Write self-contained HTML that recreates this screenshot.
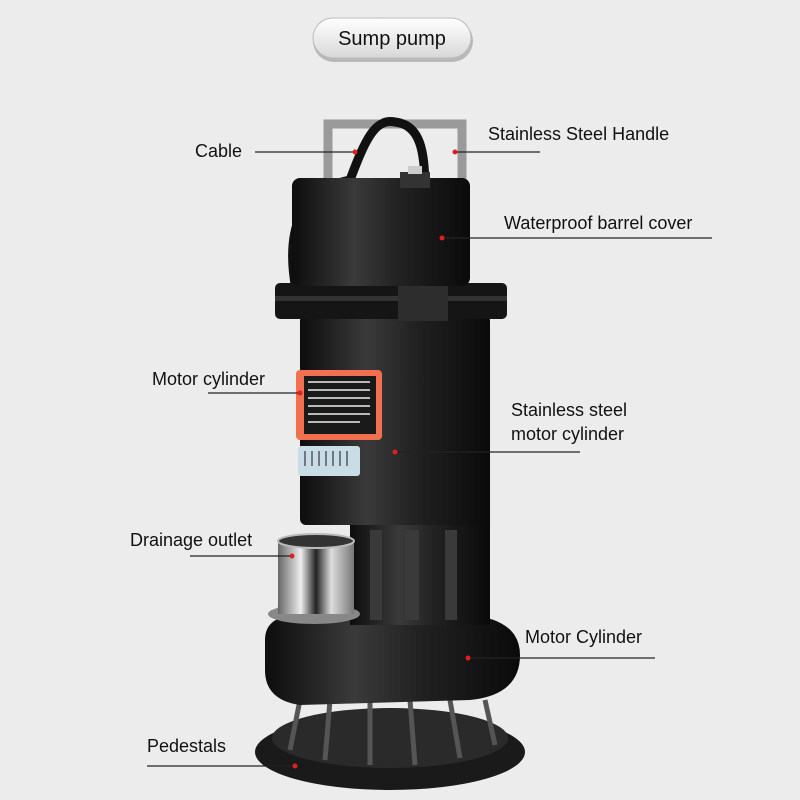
<!DOCTYPE html>
<html><head><meta charset="utf-8"><style>
html,body{margin:0;padding:0;background:#ececec;}
svg{display:block}
text{font-family:"Liberation Sans",sans-serif;font-size:18px;fill:#111;}
</style></head><body>
<svg width="800" height="800" viewBox="0 0 800 800" xmlns="http://www.w3.org/2000/svg">
<defs>
<linearGradient id="pill" x1="0" y1="0" x2="0" y2="1"><stop offset="0" stop-color="#ffffff"/><stop offset="1" stop-color="#d8d8d8"/></linearGradient>
<linearGradient id="blk" x1="0" y1="0" x2="1" y2="0"><stop offset="0" stop-color="#0d0d0d"/><stop offset="0.35" stop-color="#3a3a3a"/><stop offset="0.6" stop-color="#222"/><stop offset="1" stop-color="#0a0a0a"/></linearGradient>
<linearGradient id="steel" x1="0" y1="0" x2="1" y2="0"><stop offset="0" stop-color="#666"/><stop offset="0.3" stop-color="#eee"/><stop offset="0.5" stop-color="#222"/><stop offset="0.7" stop-color="#ddd"/><stop offset="1" stop-color="#777"/></linearGradient>
</defs>
<rect width="800" height="800" fill="#ececec"/>
<rect x="313" y="20" width="160" height="42" rx="21" fill="#b8b8b8"/>
<rect x="313" y="18" width="158" height="40" rx="20" fill="url(#pill)" stroke="#bbb"/>
<text x="392" y="45" text-anchor="middle" style="font-size:20px">Sump pump</text>

<!-- handle -->
<path d="M328 200 V124 H462 V200" fill="none" stroke="#9a9a9a" stroke-width="9"/>
<!-- cable -->
<path d="M296 290 C285 230 300 190 350 180 C365 140 375 118 395 122 C420 125 425 150 425 190" fill="none" stroke="#111" stroke-width="9"/>
<!-- base -->
<ellipse cx="390" cy="752" rx="135" ry="38" fill="#1a1a1a"/>
<ellipse cx="390" cy="738" rx="118" ry="30" fill="#2a2a2a"/>
<g stroke="#555" stroke-width="5"><line x1="300" y1="700" x2="290" y2="750"/><line x1="330" y1="700" x2="325" y2="760"/><line x1="370" y1="700" x2="370" y2="765"/><line x1="410" y1="700" x2="415" y2="765"/><line x1="450" y1="700" x2="460" y2="758"/><line x1="485" y1="700" x2="495" y2="745"/></g>
<!-- volute -->
<path d="M265 640 Q265 615 300 615 L470 615 Q520 620 520 655 Q520 695 470 700 L300 705 Q265 700 265 670 Z" fill="url(#blk)"/>
<!-- ribs -->
<rect x="350" y="515" width="140" height="110" fill="url(#blk)"/>
<g fill="#3a3a3a"><rect x="370" y="530" width="12" height="90"/><rect x="405" y="530" width="14" height="90"/><rect x="445" y="530" width="12" height="90"/></g>
<!-- motor body -->
<rect x="300" y="315" width="190" height="210" rx="6" fill="url(#blk)"/>
<rect x="296" y="370" width="86" height="70" rx="4" fill="#f07050"/>
<rect x="304" y="376" width="72" height="58" fill="#1a1a1a"/>
<g stroke="#bbb" stroke-width="2"><line x1="308" y1="382" x2="370" y2="382"/><line x1="308" y1="390" x2="370" y2="390"/><line x1="308" y1="398" x2="370" y2="398"/><line x1="308" y1="406" x2="370" y2="406"/><line x1="308" y1="414" x2="370" y2="414"/><line x1="308" y1="422" x2="360" y2="422"/></g>
<rect x="298" y="446" width="62" height="30" rx="3" fill="#c8dde6"/>
<g stroke="#556" stroke-width="1.5"><line x1="305" y1="451" x2="305" y2="466"/><line x1="312" y1="451" x2="312" y2="466"/><line x1="319" y1="451" x2="319" y2="466"/><line x1="326" y1="451" x2="326" y2="466"/><line x1="333" y1="451" x2="333" y2="466"/><line x1="340" y1="451" x2="340" y2="466"/><line x1="347" y1="451" x2="347" y2="466"/></g>
<!-- flange -->
<rect x="275" y="283" width="232" height="36" rx="5" fill="#151515"/>
<rect x="275" y="296" width="232" height="5" fill="#333"/>
<rect x="398" y="283" width="50" height="38" fill="#2d2d2d"/>
<!-- top cylinder -->
<rect x="292" y="178" width="178" height="108" rx="8" fill="url(#blk)"/>
<rect x="400" y="172" width="30" height="16" fill="#333"/>
<rect x="408" y="166" width="14" height="8" fill="#ccc"/>
<!-- outlet -->
<ellipse cx="314" cy="614" rx="46" ry="10" fill="#888"/>
<rect x="278" y="540" width="76" height="74" fill="url(#steel)"/>
<ellipse cx="316" cy="541" rx="38" ry="7" fill="#333" stroke="#bbb" stroke-width="2"/>

<!-- leader lines -->
<g stroke="#222" stroke-width="1.2">
<line x1="255" y1="152" x2="355" y2="152"/>
<line x1="455" y1="152" x2="540" y2="152"/>
<line x1="440" y1="238" x2="712" y2="238"/>
<line x1="208" y1="393" x2="300" y2="393"/>
<line x1="395" y1="452" x2="580" y2="452"/>
<line x1="190" y1="556" x2="292" y2="556"/>
<line x1="468" y1="658" x2="655" y2="658"/>
<line x1="147" y1="766" x2="295" y2="766"/>
</g>
<g fill="#e02020">
<circle cx="355" cy="152" r="2.5"/><circle cx="455" cy="152" r="2.5"/><circle cx="442" cy="238" r="2.5"/><circle cx="300" cy="393" r="2.5"/><circle cx="395" cy="452" r="2.5"/><circle cx="292" cy="556" r="2.5"/><circle cx="468" cy="658" r="2.5"/><circle cx="295" cy="766" r="2.5"/>
</g>
<text x="195" y="157">Cable</text>
<text x="488" y="140">Stainless Steel Handle</text>
<text x="504" y="229">Waterproof barrel cover</text>
<text x="152" y="385">Motor cylinder</text>
<text x="511" y="416">Stainless steel</text>
<text x="511" y="440">motor cylinder</text>
<text x="130" y="546">Drainage outlet</text>
<text x="525" y="643">Motor Cylinder</text>
<text x="147" y="752">Pedestals</text>
</svg>
</body></html>
